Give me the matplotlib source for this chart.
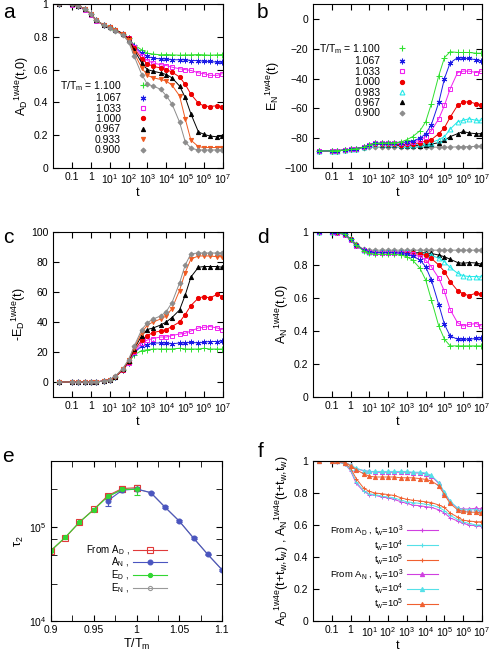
import matplotlib
matplotlib.use('Agg')
import matplotlib.pyplot as plt
from matplotlib.lines import Line2D
from matplotlib.ticker import NullLocator, FixedLocator
import numpy as np

plt.rcParams.update({
    'font.family': ['Liberation Sans', 'DejaVu Sans'],
    'mathtext.default': 'regular',
    'font.size': 7,
    'axes.linewidth': 0.8,
    'xtick.direction': 'in',
    'ytick.direction': 'in',
    'xtick.top': True,
    'ytick.right': True,
    'xtick.major.size': 4,
    'ytick.major.size': 4,
    'xtick.minor.size': 4,
    'ytick.minor.size': 4,
    'xtick.labelsize': 7.5,
    'ytick.labelsize': 7.5,
    'axes.labelsize': 9,
})

# ---------------- data ----------------
t = [0.02, 0.1, 0.2, 0.5, 1, 2, 5, 10, 20, 50, 100, 200, 500, 1e3, 2e3, 5e3,
     1e4, 2e4, 5e4, 1e5, 2e5, 5e5, 1e6, 2e6, 5e6, 9e6]

# panel a: A_D(t,0)
a_110 = [1.0, 1.0, 0.99, 0.97, 0.94, 0.90, 0.87, 0.857, 0.84, 0.82, 0.79,
         0.75, 0.72, 0.70, 0.695, 0.69, 0.692, 0.69, 0.688, 0.69, 0.69, 0.692, 0.69, 0.688, 0.69, 0.692]
a_1067 = [1.0, 1.0, 0.99, 0.97, 0.94, 0.90, 0.87, 0.857, 0.84, 0.82, 0.79,
          0.745, 0.70, 0.68, 0.67, 0.665, 0.665, 0.66, 0.66, 0.66, 0.655, 0.655, 0.65, 0.65, 0.645, 0.645]
a_1033 = [1.0, 0.995, 0.985, 0.965, 0.935, 0.895, 0.87, 0.857, 0.84, 0.82, 0.79,
          0.74, 0.685, 0.655, 0.64, 0.63, 0.625, 0.615, 0.605, 0.60, 0.595, 0.58, 0.575, 0.565, 0.565, 0.575]
a_100 = [1.0, 1.0, 0.99, 0.97, 0.94, 0.90, 0.87, 0.857, 0.84, 0.82, 0.79,
         0.73, 0.665, 0.635, 0.62, 0.61, 0.60, 0.585, 0.555, 0.51, 0.45, 0.395, 0.378, 0.375, 0.38, 0.375]
a_0967 = [1.0, 1.0, 0.99, 0.97, 0.94, 0.90, 0.87, 0.857, 0.84, 0.82, 0.785,
          0.72, 0.64, 0.60, 0.59, 0.58, 0.57, 0.55, 0.50, 0.43, 0.33, 0.22, 0.205, 0.195, 0.19, 0.195]
a_0933 = [1.0, 1.0, 0.99, 0.97, 0.94, 0.90, 0.87, 0.857, 0.84, 0.815, 0.78,
          0.70, 0.61, 0.565, 0.55, 0.54, 0.53, 0.505, 0.44, 0.30, 0.17, 0.13, 0.125, 0.125, 0.125, 0.125]
a_090 = [1.0, 1.0, 0.99, 0.97, 0.94, 0.90, 0.87, 0.855, 0.835, 0.81, 0.77,
         0.68, 0.57, 0.51, 0.50, 0.48, 0.44, 0.39, 0.28, 0.16, 0.12, 0.11, 0.11, 0.11, 0.11, 0.11]

# panel b: E_N(t)
b_110 = [-88.5, -88.5, -88.3, -88, -87.5, -87, -86, -84.5, -83.5, -83.2, -83.2,
         -83, -82.5, -81, -79, -75, -69, -57, -38, -26, -22, -22.5, -22.5, -22.5, -23, -23]
b_1067 = [-88.5, -88.5, -88.3, -88, -87.5, -87, -86, -84.5, -83.5, -83.2, -83.2,
          -83, -83, -82.5, -82, -80, -77, -71, -56, -40, -29.5, -26, -26.5, -26.5, -27.5, -28]
b_1033 = [-88.5, -88.5, -88.3, -88, -87.5, -87, -86, -84.5, -83.5, -83.2, -83.2,
          -83, -83.5, -83, -82.5, -81.5, -79, -75, -67, -58, -47, -36, -35, -35, -36, -35]
b_100 = [-88.5, -88.5, -88.3, -88, -87.5, -87, -86, -84.5, -83.8, -83.8, -84,
         -84, -84.5, -84, -84, -83, -82, -81, -77, -73, -66, -58, -56, -55.5, -57, -57.5]
b_0983 = [-88.5, -88.5, -88.3, -88, -87.5, -87, -86, -84.5, -84, -84, -84,
          -84, -84.5, -84.5, -84.5, -84, -83.5, -83, -81, -79, -74, -69, -68, -67, -68, -68]
b_0967 = [-88.5, -88.5, -88.3, -88, -87.5, -87, -86, -84.5, -84.2, -84.3, -84.5,
          -84.5, -85, -85, -85, -85, -84.5, -84, -83, -81.5, -79, -77, -75.5, -76.5, -77, -77]
b_090 = [-88.5, -88.5, -88.3, -88, -87.5, -87, -86.5, -86, -86, -86, -86,
         -86, -86, -86, -86, -86, -86, -86, -86, -86, -86, -85.8, -85.8, -85.6, -85.5, -85.5]

# panel c: -E_D(t)
c_110 = [0, 0, 0, 0, 0, 0.2, 0.6, 1.5, 3.5, 8, 13,
         18, 21, 21.5, 22, 22, 22, 22, 22.5, 22, 22, 22, 22.5, 22, 22, 22]
c_1067 = [0, 0, 0, 0, 0, 0.2, 0.6, 1.5, 3.5, 8, 13,
          19.5, 24, 25, 26, 26, 26, 25.5, 26, 26, 26.5, 26, 26.5, 27, 27, 27.5]
c_1033 = [0, 0, 0, 0, 0, 0.2, 0.6, 1.5, 3.5, 8, 13,
          20, 26, 28, 29, 30, 30, 31, 32, 32.5, 34, 36, 36.5, 37, 36, 35]
c_100 = [0, 0, 0, 0, 0, 0.2, 0.6, 1.5, 3.5, 8, 13.5,
         21, 28, 31, 33, 34, 35, 37, 40, 45, 51, 56, 57, 56, 58.5, 57]
c_0967 = [0, 0, 0, 0, 0, 0.2, 0.6, 1.5, 3.5, 8.5, 14,
          22, 31, 35, 36, 38, 40, 43, 48, 58, 70, 76.5, 77, 77, 77, 76.5]
c_0933 = [0, 0, 0, 0, 0, 0.2, 0.6, 1.5, 3.5, 8.5, 14.5,
          23, 33, 38, 40, 42, 44, 49, 61, 73, 82, 84, 84, 84, 83.5, 83.5]
c_090 = [0, 0, 0, 0, 0, 0.2, 0.6, 1.6, 4, 9, 15,
         24, 35, 39.5, 42, 44, 47, 53, 66, 78, 85.5, 86, 86, 86, 86, 86]

# panel d: A_N(t,0)
d_110 = [1.0, 1.0, 0.998, 0.985, 0.955, 0.92, 0.885, 0.87, 0.865, 0.865, 0.865,
         0.865, 0.86, 0.85, 0.83, 0.78, 0.71, 0.59, 0.43, 0.35, 0.31, 0.31, 0.31, 0.31, 0.31, 0.31]
d_1067 = [1.0, 1.0, 0.998, 0.985, 0.955, 0.92, 0.89, 0.88, 0.875, 0.875, 0.875,
          0.875, 0.87, 0.865, 0.855, 0.83, 0.79, 0.71, 0.56, 0.44, 0.37, 0.35, 0.35, 0.35, 0.355, 0.36]
d_1033 = [1.0, 0.998, 0.995, 0.98, 0.95, 0.915, 0.89, 0.88, 0.875, 0.875, 0.875,
          0.875, 0.875, 0.87, 0.865, 0.85, 0.83, 0.79, 0.72, 0.64, 0.53, 0.45, 0.43, 0.44, 0.445, 0.43]
d_100 = [1.0, 1.0, 0.998, 0.985, 0.955, 0.92, 0.89, 0.88, 0.875, 0.875, 0.875,
         0.875, 0.875, 0.875, 0.87, 0.865, 0.86, 0.84, 0.80, 0.76, 0.70, 0.645, 0.625, 0.615, 0.63, 0.625]
d_0983 = [1.0, 1.0, 0.998, 0.985, 0.955, 0.92, 0.89, 0.88, 0.877, 0.877, 0.877,
          0.877, 0.877, 0.877, 0.875, 0.87, 0.868, 0.86, 0.84, 0.82, 0.785, 0.75, 0.735, 0.73, 0.73, 0.728]
d_0967 = [1.0, 1.0, 0.998, 0.985, 0.955, 0.92, 0.89, 0.88, 0.878, 0.878, 0.878,
          0.878, 0.878, 0.878, 0.877, 0.875, 0.873, 0.87, 0.86, 0.85, 0.835, 0.815, 0.81, 0.815, 0.812, 0.805]
d_090 = [1.0, 1.0, 0.998, 0.985, 0.96, 0.925, 0.895, 0.89, 0.89, 0.89, 0.89,
         0.89, 0.89, 0.89, 0.89, 0.89, 0.89, 0.89, 0.89, 0.89, 0.89, 0.89, 0.89, 0.89, 0.89, 0.89]

# panel e: tau_2 vs T/Tm
T_D = [0.9, 0.9167, 0.9333, 0.95, 0.9667, 0.9833, 1.0]
T_N = [0.9667, 0.9833, 1.0, 1.0167, 1.0333, 1.05, 1.0667, 1.0833, 1.1]
tau_AD = [5.6e4, 7.7e4, 1.12e5, 1.53e5, 2.15e5, 2.55e5, 2.6e5]
err_AD = [2e3, 3e3, 4e3, 5e3, 1e4, 1.5e4, 2e4]
tau_ED = [5.6e4, 7.75e4, 1.12e5, 1.52e5, 2.1e5, 2.5e5, 2.5e5]
err_ED = [2e3, 3e3, 4e3, 5e3, 1e4, 1.5e4, 3e4]
tau_AN = [1.9e5, 2.45e5, 2.52e5, 2.31e5, 1.62e5, 1.15e5, 7.6e4, 5.1e4, 3.5e4]
err_AN = [2.2e4, 1e4, 1e4, 5e3, 3e3, 2e3, 1.5e3, 1e3, 8e2]
tau_EN = [2.1e5, 2.48e5, 2.52e5, 2.3e5, 1.62e5, 1.15e5, 7.6e4, 5.1e4, 3.5e4]

# panel f: two-time autocorrelations
f_AD_3 = [1.0, 1.0, 0.995, 0.98, 0.94, 0.86, 0.81, 0.79, 0.785, 0.775, 0.77, 0.76, 0.745,
          0.735, 0.725, 0.72, 0.715, 0.71, 0.695, 0.675, 0.645, 0.625, 0.61, 0.60, 0.595, 0.595]
f_AD_4 = [1.0, 1.0, 0.995, 0.98, 0.945, 0.87, 0.815, 0.795, 0.79, 0.78, 0.775, 0.77, 0.755,
          0.745, 0.74, 0.735, 0.73, 0.725, 0.71, 0.69, 0.66, 0.635, 0.62, 0.61, 0.60, 0.60]
f_AD_5 = [1.0, 1.0, 0.997, 0.985, 0.955, 0.89, 0.83, 0.81, 0.80, 0.795, 0.79, 0.785, 0.77,
          0.76, 0.755, 0.75, 0.745, 0.74, 0.725, 0.71, 0.675, 0.65, 0.63, 0.625, 0.62, 0.62]
f_AN_3 = [1.0, 1.0, 1.0, 0.99, 0.975, 0.95, 0.94, 0.935, 0.93, 0.93, 0.93, 0.93, 0.93,
          0.93, 0.925, 0.925, 0.92, 0.905, 0.86, 0.80, 0.745, 0.705, 0.70, 0.70, 0.705, 0.70]
f_AN_4 = [1.0, 1.0, 1.0, 0.99, 0.975, 0.955, 0.94, 0.935, 0.935, 0.935, 0.935, 0.935, 0.935,
          0.935, 0.93, 0.93, 0.925, 0.91, 0.865, 0.805, 0.75, 0.705, 0.695, 0.695, 0.695, 0.69]
f_AN_5 = [1.0, 1.0, 1.0, 0.99, 0.97, 0.945, 0.92, 0.905, 0.90, 0.90, 0.90, 0.90, 0.895,
          0.895, 0.895, 0.89, 0.885, 0.875, 0.845, 0.79, 0.735, 0.695, 0.685, 0.68, 0.68, 0.675]

# ---------------- styles ----------------
GREEN, BLUE, MAGENTA, RED = '#2fe02f', '#1a1ae6', '#f020f0', '#ee0000'
CYAN, BLACK, ORANGE, GRAY = '#22e8e8', '#000000', '#f05a20', '#8c8c8c'

# (color, marker, filled, size)
S110 = (GREEN, '+', True, 4)
S1067 = (BLUE, (6, 2, 0), True, 4)
S1033 = (MAGENTA, 's', False, 3.5)
S100 = (RED, 'o', True, 3)
S0983 = (CYAN, '^', False, 3.5)
S0967 = (BLACK, '^', True, 3)
S0933 = (ORANGE, 'v', True, 3)
S090 = (GRAY, 'D', True, 2.5)

time_ticks = [0.1, 1, 10, 100, 1e3, 1e4, 1e5, 1e6, 1e7]
time_labels = ['0.1', '1'] + ['$10^{%d}$' % k for k in range(1, 8)]
frac_ticks = [0, 0.2, 0.4, 0.6, 0.8, 1.0]
frac_labels = ['0', '0.2', '0.4', '0.6', '0.8', '1']


def draw(ax, y, style):
    c, m, filled, ms = style
    ax.plot(t, y, color=c, lw=0.7, marker=m, ms=ms, mew=0.7,
            mfc=c if filled else 'none', mec=c)


def proxy(style, line=False):
    c, m, filled, ms = style
    return Line2D([], [], color=c, lw=0.8, ls='-' if line else 'none', marker=m,
                  ms=ms, mew=0.8, mfc=c if filled else 'none', mec=c)


def time_axis(ax):
    ax.set_xscale('log')
    ax.set_xlim(0.01, 1e7)
    ax.set_xticks(time_ticks)
    ax.set_xticklabels(time_labels)
    ax.xaxis.set_minor_locator(NullLocator())
    ax.set_xlabel('t', labelpad=1)
    ax.tick_params(axis='x', pad=3)


fig = plt.figure(figsize=(4.92, 6.56), dpi=100)
W, H = 492.0, 656.0


def axes_px(x0, x1, y0, y1):
    return fig.add_axes([x0 / W, 1 - y1 / H, (x1 - x0) / W, (y1 - y0) / H])


def key(ax, handles, labels, anchor, hl, hp, sp, fs=7.5):
    ax.legend(handles, labels, loc='center right', bbox_to_anchor=anchor, frameon=False,
              markerfirst=False, handlelength=hl, handletextpad=hp, labelspacing=sp,
              borderpad=0, borderaxespad=0, fontsize=fs)


# ---- a ----
ax = axes_px(53, 223, 4, 168)
for y, s in [(a_110, S110), (a_1067, S1067), (a_1033, S1033), (a_100, S100),
             (a_0967, S0967), (a_0933, S0933), (a_090, S090)]:
    draw(ax, y, s)
time_axis(ax)
ax.set_ylim(0, 1)
ax.set_yticks(frac_ticks)
ax.set_yticklabels(frac_labels)
ax.set_ylabel('A$_D$$^{1w4e}$(t,0)', labelpad=2)
labels_a = ['T/T$_m$ = 1.100', '1.067', '1.033', '1.000', '0.967', '0.933', '0.900']
key(ax, [proxy(s) for s in [S110, S1067, S1033, S100, S0967, S0933, S090]], labels_a,
    (0.56, 0.31), 1.0, 1.6, 0.04)

# ---- b ----
ax = axes_px(313, 482, 4, 168)
for y, s in [(b_090, S090), (b_0967, S0967), (b_0983, S0983), (b_100, S100),
             (b_1033, S1033), (b_1067, S1067), (b_110, S110)]:
    draw(ax, y, s)
time_axis(ax)
ax.set_ylim(-100, 10)
ax.set_yticks([-100, -80, -60, -40, -20, 0])
ax.set_ylabel('E$_N$$^{1w4e}$(t)', labelpad=2)
labels_b = ['T/T$_m$ = 1.100', '1.067', '1.033', '1.000', '0.983', '0.967', '0.900']
key(ax, [proxy(s) for s in [S110, S1067, S1033, S100, S0983, S0967, S090]], labels_b,
    (0.56, 0.535), 1.0, 1.6, 0.04)

# ---- c ----
ax = axes_px(53, 223, 232, 397)
for y, s in [(c_110, S110), (c_1067, S1067), (c_1033, S1033), (c_100, S100),
             (c_0967, S0967), (c_0933, S0933), (c_090, S090)]:
    draw(ax, y, s)
time_axis(ax)
ax.set_ylim(-10, 100)
ax.set_yticks([0, 20, 40, 60, 80, 100])
ax.set_ylabel('-E$_D$$^{1w4e}$(t)', labelpad=2)

# ---- d ----
ax = axes_px(313, 482, 232, 397)
for y, s in [(d_090, S090), (d_0967, S0967), (d_0983, S0983), (d_100, S100),
             (d_1033, S1033), (d_1067, S1067), (d_110, S110)]:
    draw(ax, y, s)
time_axis(ax)
ax.set_ylim(0, 1)
ax.set_yticks(frac_ticks)
ax.set_yticklabels(frac_labels)
ax.set_ylabel('A$_N$$^{1w4e}$(t,0)', labelpad=2)

# ---- e ----
ax = axes_px(51, 222, 461, 621)
SAD = ('#e03a3a', 's', False, 4)
SAN = ('#4a55c0', 'o', True, 3.5)
SED = ('#33d633', 'o', True, 3)
SEN = ('#999999', 'o', False, 3)
for x, y, err, s in [(T_D, tau_AD, err_AD, SAD), (T_N, tau_EN, None, SEN),
                     (T_N, tau_AN, err_AN, SAN), (T_D, tau_ED, err_ED, SED)]:
    c, m, filled, ms = s
    ax.errorbar(x, y, yerr=err, color=c, lw=0.8, marker=m, ms=ms, mew=0.8,
                mfc=c if filled else 'none', mec=c, capsize=2, elinewidth=0.8)
ax.set_yscale('log')
ax.set_ylim(1e4, 5e5)
ax.set_xlim(0.9, 1.1)
ax.set_yticks([1e4, 1e5])
ax.set_yticklabels(['$10^4$', '$10^5$'])
ax.yaxis.set_minor_locator(FixedLocator([2.5e4, 5e4, 7.5e4, 2.5e5]))
ax.yaxis.set_minor_formatter(plt.NullFormatter())
ax.set_xticks([0.9, 0.95, 1.0, 1.05, 1.1])
ax.set_xticklabels(['0.9', '0.95', '1', '1.05', '1.1'])
ax.xaxis.set_minor_locator(FixedLocator([0.925, 0.975, 1.025, 1.075]))
ax.tick_params(which='minor', direction='in', top=True, right=True, length=4)
ax.tick_params(axis='x', pad=3)
ax.set_xlabel('T/T$_m$', labelpad=1)
ax.set_ylabel('$\\tau_2$', labelpad=2)
key(ax, [proxy(s, True) for s in [SAD, SAN, SED, SEN]],
    ['From A$_D$ ,', 'A$_N$ ,', 'E$_D$ ,', 'E$_N$ ,'], (0.68, 0.325), 3.5, 0.4, -0.1, fs=7)

# ---- f ----
ax = axes_px(313, 482, 461, 621)
MAG_F, CYA_F, ORA_F = '#d040e0', '#55e0e8', '#f06030'
SF = [(f_AD_3, (MAG_F, '+', True, 3.5)), (f_AD_4, (CYA_F, '+', True, 3.5)),
      (f_AD_5, (ORA_F, '+', True, 3.5)), (f_AN_3, (MAG_F, '^', True, 3)),
      (f_AN_4, (CYA_F, '^', True, 3)), (f_AN_5, (ORA_F, '^', True, 3))]
for y, s in SF:
    draw(ax, y, s)
time_axis(ax)
ax.set_ylim(0, 1)
ax.set_yticks(frac_ticks)
ax.set_yticklabels(frac_labels)
ax.set_ylabel('A$_D$$^{1w4e}$(t+t$_w$,t$_w$) , A$_N$$^{1w4e}$(t+t$_w$,t$_w$)', labelpad=2)
labels_f = ['From A$_D$ , t$_w$=10$^3$', 't$_w$=10$^4$', 't$_w$=10$^5$',
            'From A$_N$ , t$_w$=10$^3$', 't$_w$=10$^4$', 't$_w$=10$^5$']
key(ax, [proxy(s, True) for _, s in SF], labels_f, (0.74, 0.335), 3.3, 0.4, 0.0, fs=6.8)

# panel letters
for letter, x, y in [('a', 3, 18), ('b', 257, 18), ('c', 3, 243), ('d', 257, 243),
                     ('e', 2, 462), ('f', 258, 457)]:
    fig.text(x / W, 1 - y / H, letter, fontsize=15, va='baseline', ha='left')

fig.savefig('out.png', dpi=100)
